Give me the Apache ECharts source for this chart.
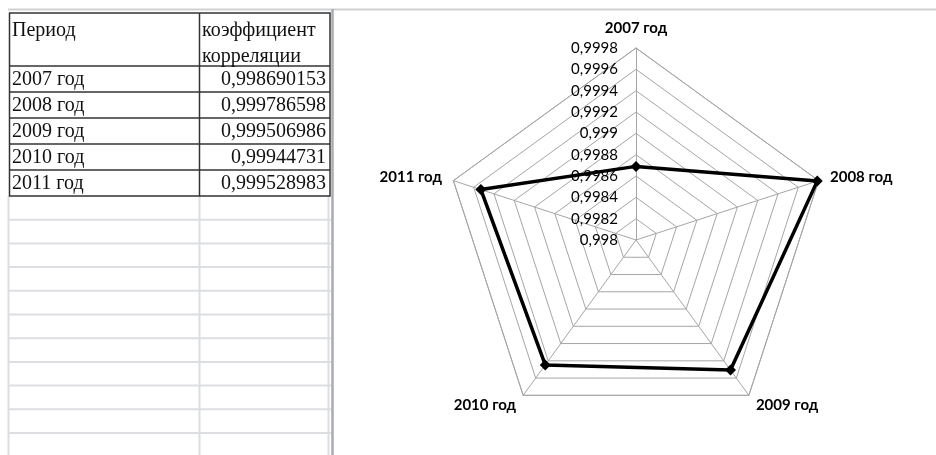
<!DOCTYPE html>
<html>
<head>
<meta charset="utf-8">
<script src="https://cdn.jsdelivr.net/npm/echarts@6/dist/echarts.min.js"></script>
<style>
html, body { margin: 0; padding: 0; background: #fff; }
#chart { width: 936px; height: 455px; }
</style>
</head>
<body>
<div id="chart"></div>
<script>
// Correlation coefficient per year
const periods = ['2007 год', '2008 год', '2009 год', '2010 год', '2011 год'];
const coefficients = [0.998690153, 0.999786598, 0.999506986, 0.99944731, 0.999528983];
const headerPeriod = 'Период';
const headerCoef = ['коэффициент', 'корреляции'];

// Radial scale
const radialMin = 0.998;
const radialMax = 0.9998;
const radialSteps = 9;

const comma = v => String(v).replace('.', ',');
const tickText = v => String(parseFloat(Number(v).toFixed(4))).replace('.', ',');

// ECharts places indicators counter-clockwise; this order runs them clockwise from the top
const order = [0, 4, 3, 2, 1];

// ---- spreadsheet table drawn as graphic elements ----
const tableFont = '20px "Liberation Serif", "Times New Roman", serif';
const border = '#333';
const tblLeft = 9.5, tblMid = 199.5, tblRight = 330, tblTop = 13, headBottom = 66, rowH = 26;
const rowTops = periods.map((_, i) => headBottom + i * rowH);
const tblBottom = headBottom + periods.length * rowH;

const graphics = [];
// sheet frame
graphics.push({ type: 'line', shape: { x1: 8, y1: 9.5, x2: 936, y2: 9.5 }, style: { stroke: '#cfd1d3', lineWidth: 2 } });
graphics.push({ type: 'line', shape: { x1: 332.5, y1: 9, x2: 332.5, y2: 455 }, style: { stroke: '#a9adb1', lineWidth: 2.5 } });
// empty sheet rows below the table
const emptyRowH = 23.7;
for (let k = 1; k <= 11; k++) {
  const y = tblBottom + k * emptyRowH;
  graphics.push({ type: 'line', shape: { x1: 8, y1: y, x2: 331, y2: y }, style: { stroke: '#dcdee1', lineWidth: 2 } });
}
[8.5, tblMid, 328.5].forEach(x => {
  graphics.push({ type: 'line', shape: { x1: x, y1: tblBottom, x2: x, y2: 455 }, style: { stroke: '#dcdee1', lineWidth: 2 } });
});
// table borders
graphics.push({ type: 'rect', shape: { x: tblLeft, y: tblTop, width: tblRight - tblLeft, height: tblBottom - tblTop },
  style: { fill: null, stroke: border, lineWidth: 1.5 } });
graphics.push({ type: 'line', shape: { x1: tblMid, y1: tblTop, x2: tblMid, y2: tblBottom }, style: { stroke: border, lineWidth: 1.5 } });
rowTops.forEach(y => {
  graphics.push({ type: 'line', shape: { x1: tblLeft, y1: y, x2: tblRight, y2: y }, style: { stroke: border, lineWidth: 1.5 } });
});
// header text
graphics.push({ type: 'text', x: 12, y: 31, style: { text: headerPeriod, font: tableFont, fill: '#111', verticalAlign: 'middle' } });
headerCoef.forEach((t, i) => {
  graphics.push({ type: 'text', x: 202, y: 31 + i * 26, style: { text: t, font: tableFont, fill: '#111', verticalAlign: 'middle' } });
});
// data rows
periods.forEach((p, i) => {
  const cy = rowTops[i] + rowH / 2 + 1;
  graphics.push({ type: 'text', x: 12, y: cy, style: { text: p, font: tableFont, fill: '#111', verticalAlign: 'middle' } });
  graphics.push({ type: 'text', x: 326, y: cy, style: { text: comma(coefficients[i]), font: tableFont, fill: '#111', align: 'right', verticalAlign: 'middle' } });
});

// ---- radar chart ----
const chart = echarts.init(document.getElementById('chart'), null, { renderer: 'canvas' });
chart.setOption({
  backgroundColor: '#fff',
  animation: false,
  graphic: graphics,
  radar: {
    center: [636, 240],
    radius: 192,
    startAngle: 90,
    splitNumber: radialSteps,
    shape: 'polygon',
    nameGap: 12,
    axisName: { color: '#000', fontFamily: 'Lato', fontWeight: 'bold', fontSize: 15 },
    indicator: order.map((i, k) => {
      const ind = { name: periods[i], min: radialMin, max: radialMax };
      if (k === 0) ind.axisLabel = { show: true };
      return ind;
    }),
    splitLine: { lineStyle: { color: '#a6a6a6', width: 1 } },
    splitArea: { show: false },
    axisLine: { lineStyle: { color: '#a6a6a6', width: 1 } },
    axisTick: { show: false },
    axisLabel: {
      show: false,
      margin: 18,
      color: '#000',
      fontFamily: 'Lato',
      fontSize: 15,
      formatter: v => tickText(v)
    }
  },
  series: [{
    type: 'radar',
    symbol: 'diamond',
    symbolSize: 11,
    lineStyle: { color: '#000', width: 3.5 },
    itemStyle: { color: '#000' },
    data: [{ value: order.map(i => coefficients[i]), name: 'коэффициент корреляции' }]
  }]
});
</script>
</body>
</html>
